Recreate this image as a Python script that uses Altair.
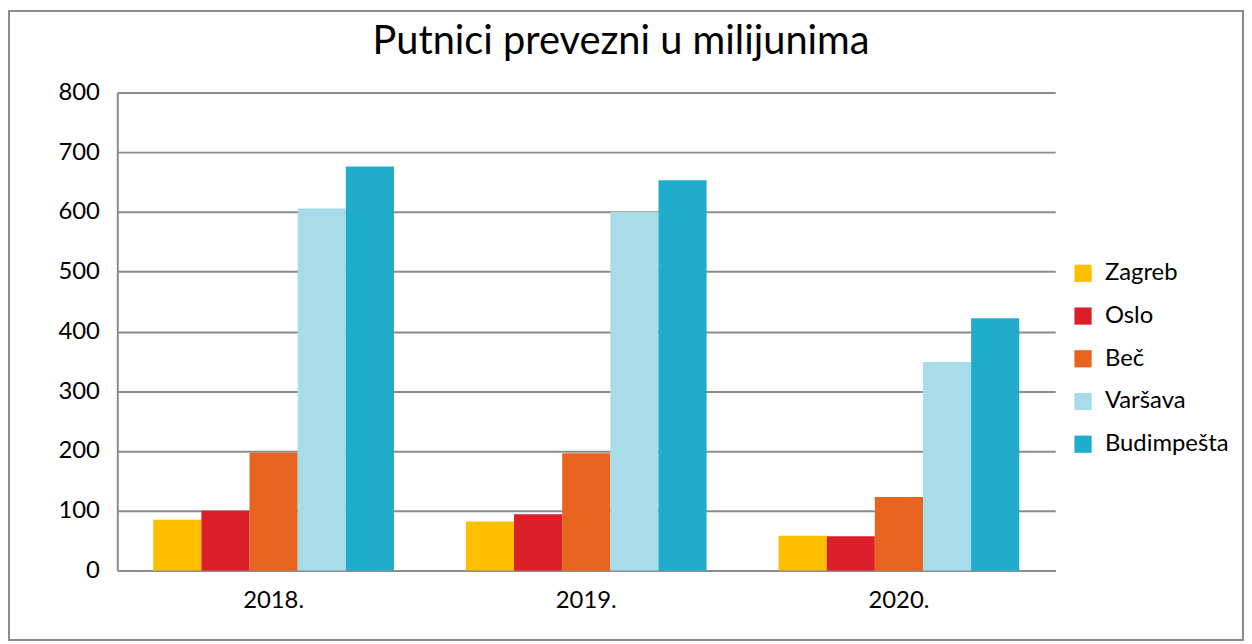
import altair as alt
import pandas as pd

years = ["2018.", "2019.", "2020."]
cities = ["Zagreb", "Oslo", "Beč", "Varšava", "Budimpešta"]
zagreb = [85, 82, 58]
oslo = [100, 94, 57]
bec = [197, 196, 123]
varsava = [606, 600, 349]
budimpesta = [676, 653, 422]
colors = ["#FDC000", "#DA1F28", "#E8641E", "#A8DCE9", "#1FADCB"]

series = [zagreb, oslo, bec, varsava, budimpesta]
rows = []
for ci, city in enumerate(cities):
    for yi, yr in enumerate(years):
        rows.append({"year": yr, "city": city, "value": series[ci][yi], "order": ci})
df = pd.DataFrame(rows)

FONT = "Lato"
GRID = "#8c8c8c"

bars = alt.Chart(df).mark_bar().encode(
    x=alt.X("year:N", sort=years, title=None,
            scale=alt.Scale(paddingInner=0.23, paddingOuter=0.115),
            axis=alt.Axis(labelAngle=0, ticks=False, labelFontSize=24, labelFont=FONT,
                          labelColor="#000000", labelPadding=18, domain=True,
                          domainColor=GRID, domainWidth=2, grid=False)),
    xOffset=alt.XOffset("city:N", sort=cities, scale=alt.Scale(paddingInner=0, paddingOuter=0)),
    y=alt.Y("value:Q", title=None,
            scale=alt.Scale(domain=[0, 800]),
            axis=alt.Axis(values=[0, 100, 200, 300, 400, 500, 600, 700, 800], ticks=False,
                          labelFontSize=24, labelFont=FONT, labelColor="#000000", labelPadding=18,
                          domain=True, domainColor=GRID, domainWidth=2,
                          grid=True, gridColor=GRID, gridWidth=2)),
    color=alt.Color("city:N", sort=cities,
                    scale=alt.Scale(domain=cities, range=colors),
                    legend=alt.Legend(title=None, orient="none", legendX=960, legendY=170,
                                      symbolType="square", symbolSize=300, symbolStrokeWidth=0,
                                      symbolOpacity=1, labelFontSize=24, labelFont=FONT,
                                      labelColor="#000000", rowPadding=19, labelOffset=10)),
)

frame = alt.Chart(pd.DataFrame({"a": [0]})).mark_rect(
    fill="transparent", stroke=GRID, strokeWidth=2
).encode(
    x=alt.value(-109), x2=alt.value(1133), y=alt.value(-82), y2=alt.value(551)
)

chart = alt.layer(frame, bars).properties(
    width=944, height=481,
    padding=0,
    title=alt.TitleParams("Putnici prevezni u milijunima", fontSize=40, font=FONT,
                          fontWeight="normal", color="#000000", anchor="middle",
                          frame="group", offset=-52, dx=35),
).configure_view(stroke=None)

chart.save("out.html", embed_options={"renderer": "svg", "actions": False})
